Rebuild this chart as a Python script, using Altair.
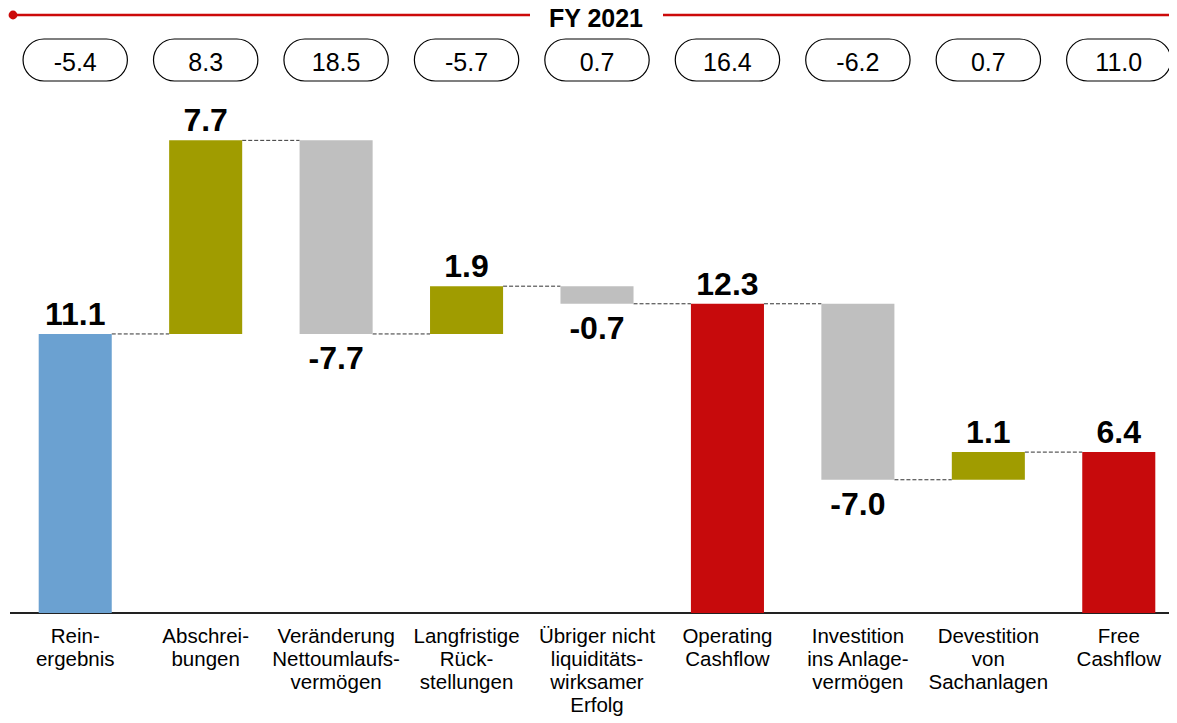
import altair as alt
import pandas as pd

# ---- data ----
categories = [
    "Rein-\nergebnis",
    "Abschrei-\nbungen",
    "Veränderung\nNettoumlaufs-\nvermögen",
    "Langfristige\nRück-\nstellungen",
    "Übriger nicht\nliquiditäts-\nwirksamer\nErfolg",
    "Operating\nCashflow",
    "Investition\nins Anlage-\nvermögen",
    "Devestition\nvon\nSachanlagen",
    "Free\nCashflow",
]
values = [11.1, 7.7, -7.7, 1.9, -0.7, 12.3, -7.0, 1.1, 6.4]
kinds = ["start", "up", "down", "up", "down", "total", "down", "up", "total"]
pill_values = ["-5.4", "8.3", "18.5", "-5.7", "0.7", "16.4", "-6.2", "0.7", "11.0"]
title_text = "FY 2021"

# ---- derived table ----
HALF = 0.28
PILL = 0.40
rows = []
running = 0.0
for i, (c, v, k, p) in enumerate(zip(categories, values, kinds, pill_values)):
    if k in ("start", "total"):
        s, e = 0.0, v
    else:
        s, e = running, running + v
    running = e
    rows.append(dict(idx=i, cat=c, val=v, kind=k, pill=p,
                     start=s, end=e, low=min(s, e), high=max(s, e),
                     xl=i - HALF, xr=i + HALF, pl=i - PILL, pr=i + PILL,
                     label=f"{v:.1f}", neg=v < 0))
df = pd.DataFrame(rows)

conn = pd.DataFrame([
    dict(y=df.loc[i, "end"], x1=i + HALF, x2=i + 1 - HALF)
    for i in range(len(df) - 1)
])

FONT = "Liberation Sans"
xs = alt.Scale(domain=[-0.5, 8.5], range=[2, 1176])
ys = alt.Scale(domain=[0, 24.065], range=[605, 0])
color_scale = alt.Scale(domain=["start", "up", "down", "total"],
                        range=["#6BA1D1", "#A09C00", "#BFBFBF", "#C70A0C"])

base = alt.Chart(df)

bars = base.mark_bar().encode(
    x=alt.X("xl:Q", scale=xs, axis=None),
    x2="xr:Q",
    y=alt.Y("low:Q", scale=ys, axis=None),
    y2="high:Q",
    color=alt.Color("kind:N", scale=color_scale, legend=None),
)

connectors = alt.Chart(conn).mark_rule(
    color="#333333", strokeWidth=1, strokeDash=[4, 2]
).encode(
    x=alt.X("x1:Q", scale=xs, axis=None),
    x2="x2:Q",
    y=alt.Y("y:Q", scale=ys, axis=None),
)

pos_labels = base.transform_filter("!datum.neg").mark_text(
    font=FONT, fontSize=32, fontWeight="bold", baseline="alphabetic",
    dy=-9, color="#000000"
).encode(
    x=alt.X("idx:Q", scale=xs, axis=None),
    y=alt.Y("high:Q", scale=ys, axis=None),
    text="label:N",
)

neg_labels = base.transform_filter("datum.neg").mark_text(
    font=FONT, fontSize=32, fontWeight="bold", baseline="top",
    dy=10, color="#000000"
).encode(
    x=alt.X("idx:Q", scale=xs, axis=None),
    y=alt.Y("low:Q", scale=ys, axis=None),
    text="label:N",
)

axis_df = pd.DataFrame({"zero": [0.0]})
axis_line = alt.Chart(axis_df).mark_rule(color="#222222", strokeWidth=2).encode(
    x=alt.value(2), x2=alt.value(1161),
    y=alt.Y("zero:Q", scale=ys, axis=None),
)

cat_labels = base.mark_text(
    font=FONT, fontSize=20.5, baseline="top", lineBreak="\n", lineHeight=23,
    color="#000000"
).encode(
    x=alt.X("idx:Q", scale=xs, axis=None),
    y=alt.value(619),
    text="cat:N",
)

pills = base.mark_rect(
    fill="white", stroke="#000000", strokeWidth=1.2, cornerRadius=21
).encode(
    x=alt.X("pl:Q", scale=xs, axis=None),
    x2="pr:Q",
    y=alt.value(31),
    y2=alt.value(73),
)

pill_text = base.mark_text(
    font=FONT, fontSize=25, baseline="middle", color="#000000"
).encode(
    x=alt.X("idx:Q", scale=xs, axis=None),
    y=alt.value(55),
    text="pill:N",
)

title_df = pd.DataFrame({"t": [title_text]})
RED = "#CC0A0A"
line_left = alt.Chart(title_df).mark_rule(color=RED, strokeWidth=2.5).encode(
    x=alt.value(4), x2=alt.value(522), y=alt.value(7)
)
line_right = alt.Chart(title_df).mark_rule(color=RED, strokeWidth=2.5).encode(
    x=alt.value(655), x2=alt.value(1161), y=alt.value(7)
)
dot = alt.Chart(title_df).mark_point(filled=True, color=RED, size=78, opacity=1).encode(
    x=alt.value(5), y=alt.value(7)
)
title = alt.Chart(title_df).mark_text(
    font=FONT, fontSize=25, fontWeight="bold", baseline="middle", color="#000000"
).encode(
    x=alt.value(588), y=alt.value(11), text="t:N"
)

chart = alt.layer(
    axis_line, connectors, bars, pos_labels, neg_labels, cat_labels,
    pills, pill_text, line_left, line_right, dot, title
).properties(
    width=1161, height=713,
    padding=0,
    autosize=alt.AutoSizeParams(type="none"),
).configure_view(strokeWidth=0)

chart.save("out.html", embed_options={"renderer": "svg", "actions": False})
